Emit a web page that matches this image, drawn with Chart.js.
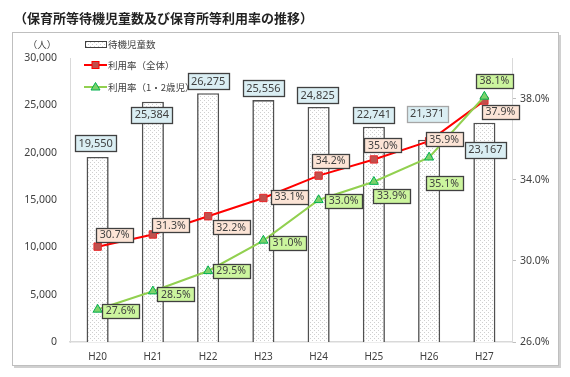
<!DOCTYPE html>
<html><head><meta charset="utf-8">
<script src="https://cdn.jsdelivr.net/npm/chart.js@4.4.1/dist/chart.umd.min.js"></script>
<style>html,body{margin:0;padding:0;background:#fff;}#wrap{width:570px;height:377px;position:relative;}</style>
</head><body><div id="wrap"><canvas id="c" width="570" height="377"></canvas></div>
<script>
const categories = ['H20','H21','H22','H23','H24','H25','H26','H27'];
const waitingChildren = [19550, 25384, 26275, 25556, 24825, 22741, 21371, 23167];
const rateTotal = [30.7, 31.3, 32.2, 33.1, 34.2, 35.0, 35.9, 37.9];
const rateInfant = [27.6, 28.5, 29.5, 31.0, 33.0, 33.9, 35.1, 38.1];
const leftTicks = [0, 5000, 10000, 15000, 20000, 25000, 30000];
const rightTicks = [26, 30, 34, 38];
const titleText = '（保育所等待機児童数及び保育所等利用率の推移）';
const unitText = '（人）';
const legendLabels = ['待機児童数', '利用率（全体）', '利用率（1・2歳児）'];

// label offsets (relative to data point), manual placement as in reference
const barLabelOffsets = [[-2,-14],[-1,13],[0,-12],[0,-12],[-1,-12],[0,-12],[-2,-26],[1,27]];
const totalLabelOffsets = [[17,-12],[18,-9],[23,11],[26,-1],[12,-15],[9,-14],[15,-2],[16,11]];
const infantLabelOffsets = [[23,1],[23,3],[23,0],[24,2],[25,1],[18,14],[15,26],[10,-16]];

const NUMFONT = '"Noto Sans", "Open Sans", sans-serif';
const JPFONT = '"Noto Sans CJK JP", sans-serif';

function makePattern() {
  const pc = document.createElement('canvas'); pc.width = 4; pc.height = 4;
  const p = pc.getContext('2d');
  p.fillStyle = '#ffffff'; p.fillRect(0,0,4,4);
  p.fillStyle = '#cfcfcf'; p.fillRect(0,0,1,1); p.fillRect(2,2,1,1);
  return document.getElementById('c').getContext('2d').createPattern(pc, 'repeat');
}
const pattern = makePattern();

function fmt(n){ return n.toLocaleString('en-US'); }

function drawBox(ctx, cx, cy, text, fill, stroke, font, h) {
  ctx.save();
  ctx.font = font;
  const w = Math.round(ctx.measureText(text).width + 7);
  const x = Math.round(cx - w/2) + 0.5, y = Math.round(cy - h/2) + 0.5;
  ctx.fillStyle = fill; ctx.fillRect(x, y, w, h);
  ctx.lineWidth = 1.3; ctx.strokeStyle = stroke; ctx.strokeRect(x, y, w, h);
  ctx.fillStyle = '#404040'; ctx.textAlign = 'center'; ctx.textBaseline = 'middle';
  ctx.fillText(text, cx, cy + 0.5);
  ctx.restore();
}

const decor = {
  id: 'decor',
  beforeDraw(chart) {
    const ctx = chart.ctx;
    ctx.save();
    ctx.fillStyle = '#fff'; ctx.fillRect(0,0,570,377);
    ctx.fillStyle = '#d0d0d0'; ctx.fillRect(14, 366, 547, 2); ctx.fillRect(559, 35, 2, 333);
    ctx.strokeStyle = '#bfbfbf'; ctx.lineWidth = 1;
    ctx.strokeRect(12.5, 32.5, 546, 333);
    ctx.fillStyle = '#222';
    ctx.font = 'bold 13px ' + JPFONT;
    ctx.textBaseline = 'middle'; ctx.textAlign = 'left';
    ctx.fillText(titleText, 14, 18);
    ctx.restore();
  },
  afterDraw(chart) {
    const ctx = chart.ctx;
    ctx.save();
    ctx.fillStyle = '#404040'; ctx.font = '9.5px ' + JPFONT;
    ctx.textAlign = 'center'; ctx.textBaseline = 'middle';
    ctx.fillText(unitText, 42, 44);
    ctx.textAlign = 'left';
    ctx.fillStyle = pattern; ctx.fillRect(85, 41.5, 21, 6);
    ctx.strokeStyle = '#404040'; ctx.lineWidth = 1; ctx.strokeRect(85.5, 41.5, 21, 6);
    ctx.strokeStyle = '#ff0000'; ctx.lineWidth = 2;
    ctx.beginPath(); ctx.moveTo(84, 65); ctx.lineTo(107, 65); ctx.stroke();
    ctx.fillStyle = '#c0504d'; ctx.fillRect(92, 61.5, 7, 7);
    ctx.strokeStyle = '#ff0000'; ctx.lineWidth = 1; ctx.strokeRect(92, 61.5, 7, 7);
    ctx.strokeStyle = '#92d050'; ctx.lineWidth = 2;
    ctx.beginPath(); ctx.moveTo(84, 87); ctx.lineTo(107, 87); ctx.stroke();
    ctx.fillStyle = '#7cd26a'; ctx.strokeStyle = '#00b050'; ctx.lineWidth = 1;
    ctx.beginPath(); ctx.moveTo(95.5, 82.5); ctx.lineTo(100, 90); ctx.lineTo(91, 90); ctx.closePath(); ctx.fill(); ctx.stroke();
    ctx.fillStyle = '#404040'; ctx.font = '9.5px ' + JPFONT;
    ctx.fillText(legendLabels[0], 108, 44.5);
    ctx.fillText(legendLabels[1], 108, 65.5);
    ctx.fillText(legendLabels[2], 108, 87.5);
    const mb = chart.getDatasetMeta(0), mr = chart.getDatasetMeta(1), mg = chart.getDatasetMeta(2);
    mb.data.forEach((el, i) => {
      const o = barLabelOffsets[i];
      drawBox(ctx, el.x + o[0], el.y + o[1], fmt(waitingChildren[i]), '#daeef3', i === 6 ? '#a6a6a6' : '#404040', '11px ' + NUMFONT, 16);
    });
    mr.data.forEach((el, i) => {
      const o = totalLabelOffsets[i];
      drawBox(ctx, el.x + o[0], el.y + o[1], rateTotal[i].toFixed(1) + '%', '#fce4d6', '#404040', '10.5px ' + NUMFONT, 14);
    });
    mg.data.forEach((el, i) => {
      const o = infantLabelOffsets[i];
      drawBox(ctx, el.x + o[0], el.y + o[1], rateInfant[i].toFixed(1) + '%', '#ccf59e', '#404040', '10.5px ' + NUMFONT, 14);
    });
    ctx.restore();
  }
};

new Chart(document.getElementById('c'), {
  data: {
    labels: categories,
    datasets: [
      { type: 'bar', label: legendLabels[0], data: waitingChildren, yAxisID: 'y',
        backgroundColor: pattern, borderColor: '#505050', borderWidth: 1.6,
        categoryPercentage: 1, barPercentage: 0.4, order: 3 },
      { type: 'line', label: legendLabels[1], data: rateTotal, yAxisID: 'y1',
        borderColor: '#ff0000', borderWidth: 2, tension: 0,
        pointStyle: 'rect', pointRadius: 5.2, pointBackgroundColor: '#c0504d', pointBorderColor: '#e8282a', pointBorderWidth: 1, order: 2 },
      { type: 'line', label: legendLabels[2], data: rateInfant, yAxisID: 'y1',
        borderColor: '#92d050', borderWidth: 2, tension: 0,
        pointStyle: 'triangle', pointRadius: 5.2, pointBackgroundColor: '#7cd26a', pointBorderColor: '#00b050', pointBorderWidth: 1, order: 1 }
    ]
  },
  options: {
    responsive: false, animation: false, devicePixelRatio: 1,
    layout: { padding: { top: 58, left: 0, right: 0, bottom: 0 } },
    plugins: { legend: { display: false }, tooltip: { enabled: false }, title: { display: false } },
    scales: {
      x: {
        grid: { display: false, drawTicks: false },
        border: { display: true, color: '#d9d9d9', width: 1.5 },
        ticks: { color: '#404040', font: { size: 10, family: NUMFONT }, padding: 9 },
        afterFit(s) { s.height = 35; }
      },
      y: {
        position: 'left', min: 0, max: 30000,
        grid: { display: false, drawTicks: false },
        border: { display: true, color: '#d9d9d9', width: 1 },
        afterBuildTicks(s) { s.ticks = leftTicks.map(v => ({ value: v })); },
        ticks: { color: '#404040', font: { size: 10.5, family: NUMFONT }, padding: 13, callback: v => fmt(v) },
        afterFit(s) { s.width = 70; }
      },
      y1: {
        position: 'right', min: 26, max: 40,
        grid: { display: true, drawOnChartArea: false, drawTicks: true, tickLength: 4, color: '#bfbfbf' },
        border: { display: true, color: '#d9d9d9', width: 1 },
        afterBuildTicks(s) { s.ticks = rightTicks.map(v => ({ value: v })); },
        ticks: { color: '#404040', font: { size: 10.5, family: NUMFONT }, padding: 4, callback: v => v.toFixed(1) + '%' },
        afterFit(s) { s.width = 58; }
      }
    }
  },
  plugins: [decor]
});
</script>
</body></html>
